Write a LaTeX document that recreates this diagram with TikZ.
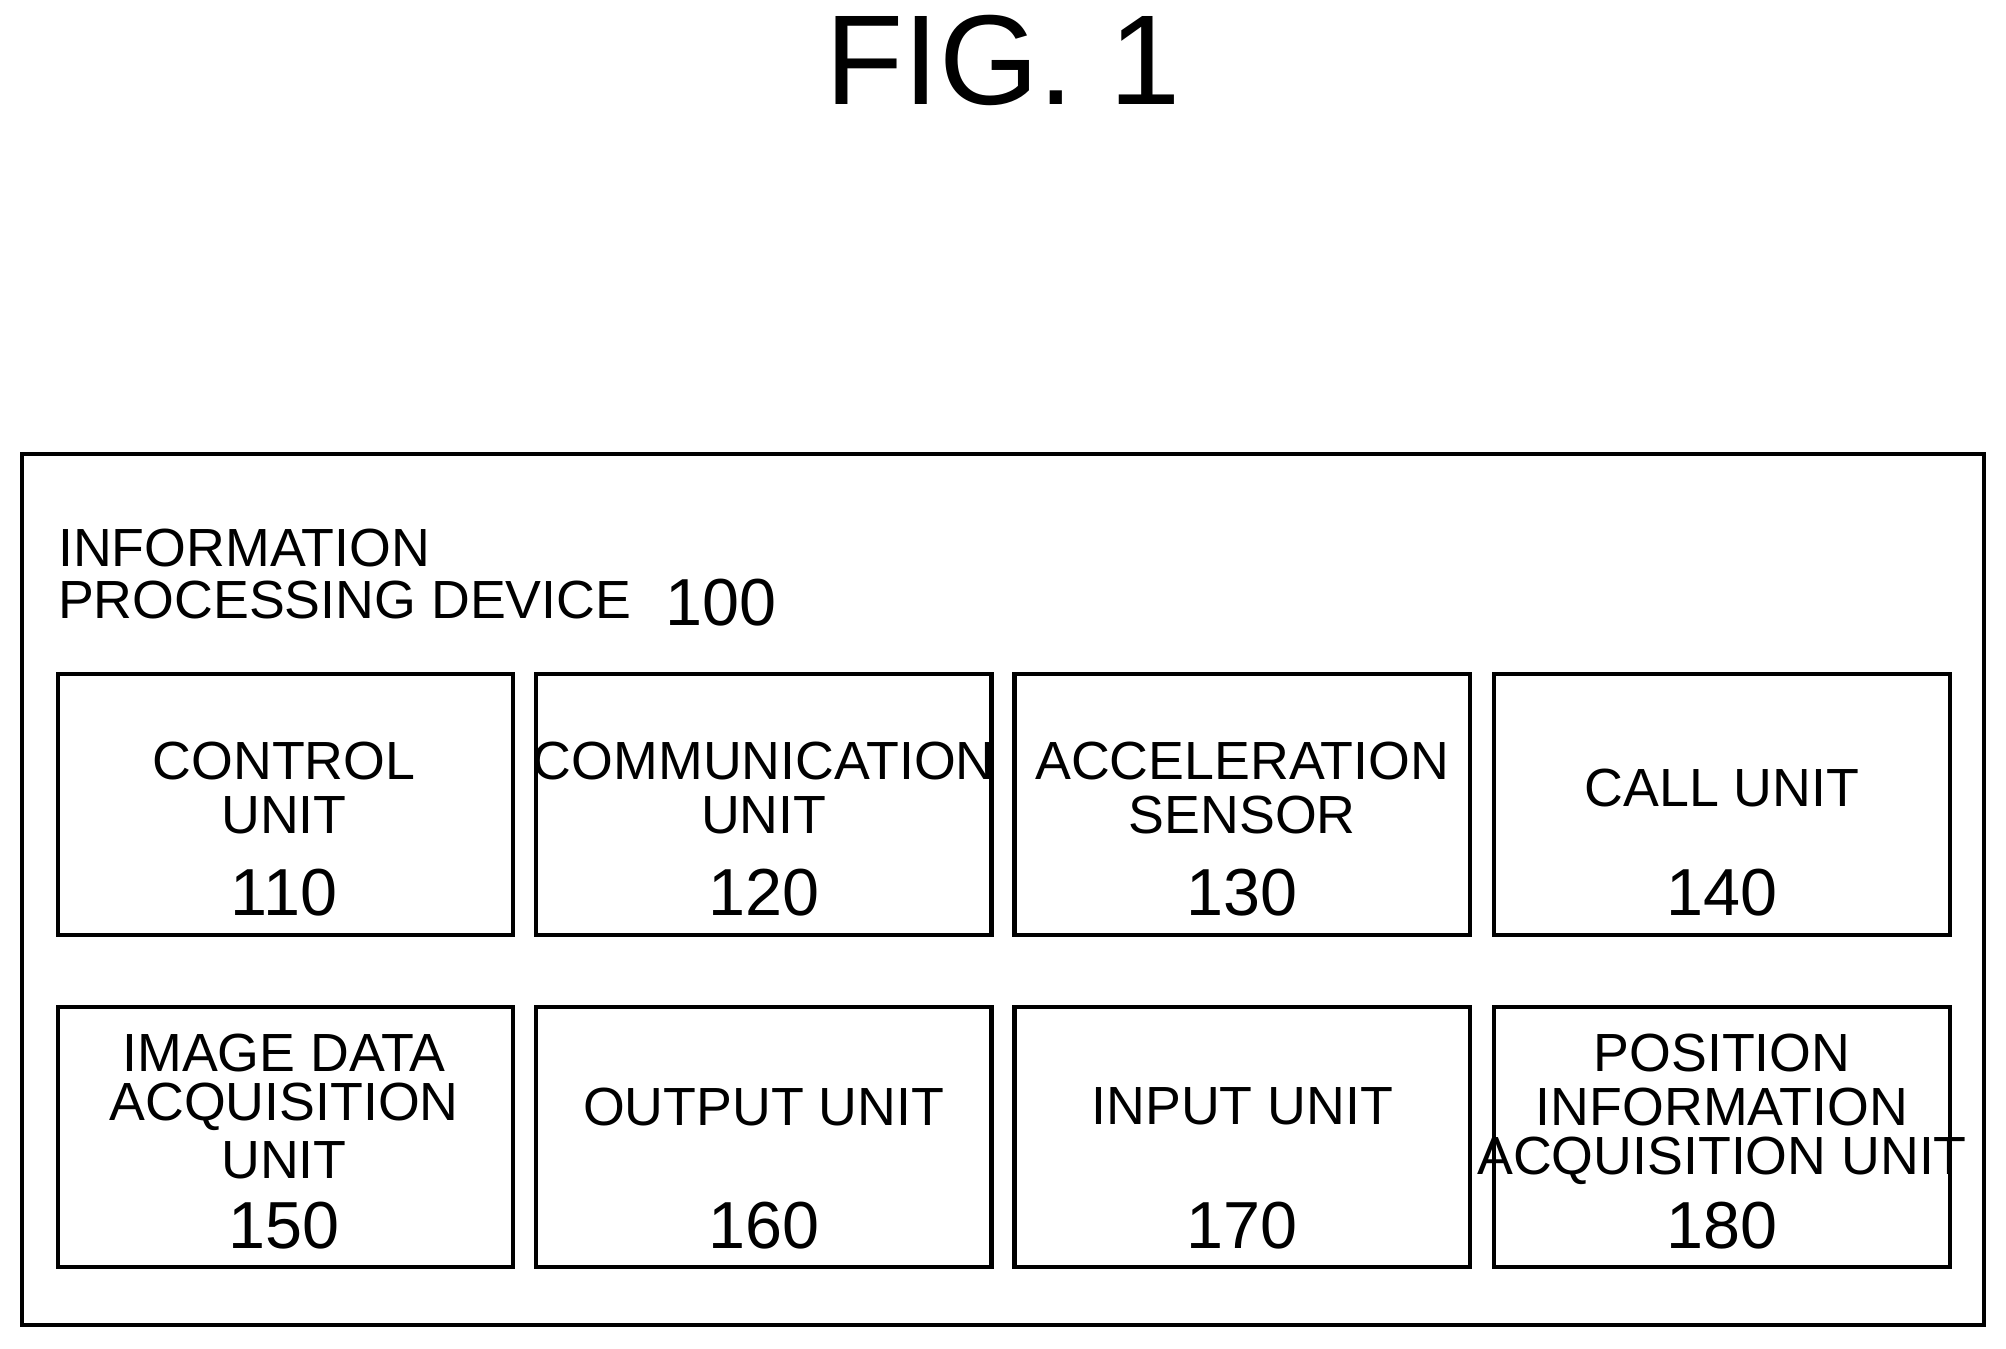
\documentclass[tikz,border=0pt]{standalone}
\usepackage{fontspec}
\setmainfont{Liberation Sans}
\begin{document}
\begin{tikzpicture}[x=0.5pt,y=-0.5pt,
  box/.style={draw,line width=1.6pt},
  lbl/.style={font=\fontsize{21}{21}\selectfont,anchor=center,inner sep=0},
  num/.style={font=\fontsize{26}{26}\selectfont,anchor=center,inner sep=0}]
\useasboundingbox (0,0) rectangle (1568,1054);
\node[font=\fontsize{50}{50}\selectfont,inner sep=0] (fig) at (784,47) {FIG. 1};
\draw[box] (17,355) rectangle (1551,1036);
\node[lbl,anchor=west] (t1) at (45,428) {INFORMATION};
\node[lbl,anchor=west] (t2) at (45,469) {PROCESSING DEVICE};
\node[num,anchor=west] (t3) at (520,471) {100};
\foreach \n/\x in {1/45,2/419,3/793,4/1168}{
  \draw[box] (\x,527) rectangle ++(356,204);
  \draw[box] (\x,787) rectangle ++(356,203);
}
% row 1
\node[lbl] (a1) at (222,595) {CONTROL}; \node[lbl] (a2) at (222,637) {UNIT}; \node[num] (a3) at (222,698) {110};
\node[lbl] (b1) at (597,595) {COMMUNICATION}; \node[lbl] (b2) at (597,637) {UNIT}; \node[num] (b3) at (597,698) {120};
\node[lbl] (c1) at (971,595) {ACCELERATION}; \node[lbl] (c2) at (971,637) {SENSOR}; \node[num] (c3) at (971,698) {130};
\node[lbl] (d1) at (1346,616) {CALL UNIT}; \node[num] (d3) at (1346,698) {140};
% row 2
\node[lbl] (e1) at (222,823) {IMAGE DATA}; \node[lbl] (e2) at (222,865) {ACQUISITION}; \node[lbl] (e4) at (222,907) {UNIT}; \node[num] (e3) at (222,958) {150};
\node[lbl] (f1) at (597,865) {OUTPUT UNIT}; \node[num] (f3) at (597,958) {160};
\node[lbl] (g1) at (971,865) {INPUT UNIT}; \node[num] (g3) at (971,958) {170};
\node[lbl] (h1) at (1346,823) {POSITION}; \node[lbl] (h2) at (1346,865) {INFORMATION}; \node[lbl] (h4) at (1346,907) {ACQUISITION UNIT}; \node[num] (h3) at (1346,958) {180};
\end{tikzpicture}
\end{document}
